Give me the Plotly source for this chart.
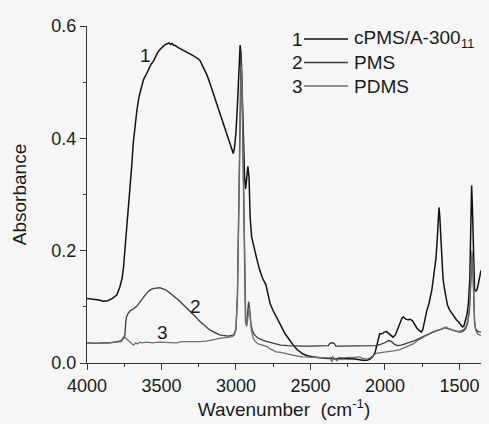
import plotly.graph_objects as go

# ---- data ----
wn1 = [4000, 3960, 3920, 3890, 3860, 3830, 3800, 3780, 3765, 3755, 3745, 3738, 3730, 3722,
       3712, 3700, 3690, 3675, 3665, 3650, 3635, 3620, 3600, 3585, 3570, 3555, 3540, 3525,
       3510, 3495, 3480, 3465, 3450, 3440, 3430, 3420, 3405, 3390, 3375, 3360, 3345, 3330,
       3315, 3300, 3285, 3270, 3255, 3240, 3225, 3210, 3195, 3180, 3165, 3150, 3135, 3120,
       3105, 3090, 3075, 3060, 3045, 3035, 3025, 3018, 3010, 3000, 2990, 2980, 2972, 2965,
       2958, 2950, 2942, 2935, 2928, 2920, 2912, 2905, 2895, 2880, 2860, 2840, 2820, 2800,
       2790, 2770, 2750, 2730, 2710, 2690, 2670, 2650, 2630, 2610, 2590, 2570, 2550, 2520,
       2490, 2450, 2400, 2380, 2360, 2340, 2300, 2250, 2200, 2150, 2120, 2100, 2080, 2065,
       2055, 2045, 2035, 2020, 2005, 1990, 1975, 1960, 1945, 1930, 1915, 1900, 1885, 1875,
       1860, 1845, 1830, 1815, 1800, 1785, 1770, 1755, 1745, 1735, 1720, 1705, 1695, 1685,
       1675, 1665, 1658, 1650, 1645, 1640, 1637, 1632, 1625, 1618, 1610, 1600, 1590, 1580,
       1565, 1550, 1535, 1520, 1505, 1490, 1480, 1470, 1460, 1450, 1440, 1430, 1423, 1418,
       1413, 1405, 1398, 1390, 1380, 1370, 1360, 1355]
ab1 = [0.115, 0.114, 0.112, 0.110, 0.111, 0.115, 0.121, 0.135, 0.150, 0.170, 0.200, 0.230, 0.260, 0.270,
       0.300, 0.350, 0.390, 0.430, 0.450, 0.475, 0.490, 0.505, 0.515, 0.525, 0.532, 0.537, 0.545, 0.553,
       0.558, 0.563, 0.566, 0.568, 0.570, 0.567, 0.569, 0.566, 0.565, 0.562, 0.560, 0.558, 0.556, 0.553,
       0.552, 0.549, 0.547, 0.544, 0.542, 0.538, 0.530, 0.522, 0.513, 0.502, 0.490, 0.478, 0.463, 0.452,
       0.440, 0.428, 0.416, 0.404, 0.393, 0.383, 0.375, 0.373, 0.383, 0.410, 0.460, 0.530, 0.566, 0.545,
       0.470, 0.380, 0.330, 0.310, 0.325, 0.350, 0.330, 0.260, 0.225, 0.205, 0.185, 0.165, 0.150, 0.140,
       0.128, 0.105, 0.093, 0.082, 0.070, 0.062, 0.052, 0.044, 0.036, 0.030, 0.024, 0.020, 0.016, 0.013,
       0.011, 0.010, 0.009, 0.008, 0.009, 0.007, 0.008, 0.008, 0.007, 0.005, 0.005, 0.007, 0.012, 0.020,
       0.030, 0.045, 0.052, 0.052, 0.055, 0.056, 0.053, 0.050, 0.046, 0.050, 0.060, 0.072, 0.080, 0.082,
       0.078, 0.077, 0.078, 0.075, 0.068, 0.062, 0.058, 0.055, 0.060, 0.075, 0.092, 0.105, 0.115, 0.130,
       0.150, 0.170, 0.185, 0.215, 0.245, 0.268, 0.277, 0.262, 0.220, 0.180, 0.150, 0.132, 0.115, 0.103,
       0.094, 0.088, 0.082, 0.077, 0.073, 0.068, 0.064, 0.066, 0.075, 0.085, 0.105, 0.150, 0.250, 0.316,
       0.280, 0.160, 0.130, 0.128, 0.132, 0.145, 0.162, 0.165]

wn2 = [4000, 3950, 3900, 3850, 3800, 3770, 3755, 3745, 3740, 3735, 3725, 3710, 3690, 3670, 3650,
       3630, 3610, 3590, 3570, 3550, 3530, 3510, 3490, 3470, 3450, 3430, 3410, 3390, 3370, 3350,
       3330, 3310, 3290, 3270, 3250, 3230, 3210, 3190, 3170, 3150, 3130, 3110, 3090, 3070, 3050,
       3030, 3015, 3000, 2990, 2980, 2972, 2966, 2960, 2952, 2944, 2936, 2930, 2922, 2915, 2908,
       2900, 2890, 2875, 2855, 2835, 2815, 2790, 2760, 2730, 2700, 2650, 2600, 2550, 2500, 2450,
       2400, 2380, 2370, 2355, 2340, 2330, 2300, 2250, 2200, 2150, 2100, 2060, 2030, 2000, 1975,
       1955, 1935, 1915, 1890, 1860, 1830, 1800, 1770, 1740, 1710, 1680, 1650, 1620, 1600, 1580,
       1560, 1540, 1520, 1500, 1480, 1460, 1445, 1432, 1422, 1415, 1410, 1404, 1398, 1390, 1375, 1355]
ab2 = [0.036, 0.035, 0.036, 0.036, 0.038, 0.040, 0.045, 0.050, 0.072, 0.082, 0.088, 0.093, 0.096, 0.100, 0.106,
       0.114, 0.121, 0.127, 0.131, 0.133, 0.134, 0.134, 0.132, 0.130, 0.126, 0.122, 0.118, 0.113, 0.108, 0.103,
       0.098, 0.093, 0.088, 0.082, 0.076, 0.071, 0.066, 0.062, 0.058, 0.055, 0.052, 0.050, 0.049, 0.048, 0.048,
       0.049, 0.050, 0.060, 0.120, 0.300, 0.500, 0.555, 0.500, 0.350, 0.180, 0.075, 0.068, 0.090, 0.109, 0.095,
       0.070, 0.058, 0.050, 0.045, 0.042, 0.040, 0.038, 0.036, 0.034, 0.032, 0.031, 0.030, 0.030, 0.030, 0.030,
       0.030, 0.031, 0.035, 0.036, 0.035, 0.030, 0.030, 0.030, 0.030, 0.030, 0.030, 0.031, 0.033, 0.036, 0.040,
       0.038, 0.033, 0.031, 0.032, 0.034, 0.037, 0.040, 0.044, 0.048, 0.052, 0.055, 0.058, 0.060, 0.063, 0.062,
       0.060, 0.058, 0.056, 0.055, 0.056, 0.060, 0.070, 0.095, 0.150, 0.185, 0.170, 0.100, 0.070, 0.060, 0.056, 0.055]

wn3 = [4000, 3950, 3900, 3850, 3800, 3770, 3755, 3745, 3735, 3720, 3705, 3695, 3685, 3675, 3660,
       3645, 3630, 3600, 3560, 3520, 3480, 3440, 3400, 3360, 3320, 3280, 3240, 3200, 3170, 3140,
       3110, 3080, 3050, 3025, 3010, 3000, 2990, 2980, 2972, 2965, 2958, 2950, 2942, 2934, 2927,
       2920, 2912, 2905, 2897, 2885, 2870, 2850, 2830, 2810, 2790, 2770, 2750, 2730, 2700, 2670,
       2640, 2610, 2580, 2550, 2500, 2450, 2400, 2370, 2355, 2350, 2340, 2320, 2310, 2280, 2250,
       2200, 2170, 2150, 2120, 2100, 2080, 2060, 2040, 2010, 1980, 1960, 1930, 1900, 1870, 1840,
       1810, 1780, 1750, 1720, 1690, 1660, 1630, 1610, 1590, 1570, 1550, 1530, 1510, 1490, 1470,
       1455, 1440, 1430, 1422, 1416, 1411, 1405, 1398, 1390, 1375, 1355]
ab3 = [0.036, 0.035, 0.035, 0.036, 0.037, 0.038, 0.043, 0.046, 0.043, 0.040, 0.036, 0.033, 0.032, 0.036, 0.034,
       0.037, 0.036, 0.037, 0.036, 0.037, 0.037, 0.037, 0.036, 0.038, 0.038, 0.037, 0.038, 0.039, 0.040, 0.042,
       0.044, 0.045, 0.046, 0.047, 0.050, 0.060, 0.120, 0.280, 0.460, 0.530, 0.480, 0.320, 0.150, 0.070, 0.065,
       0.085, 0.098, 0.085, 0.060, 0.045, 0.038, 0.034, 0.032, 0.030, 0.029, 0.025, 0.022, 0.020, 0.019, 0.017,
       0.015, 0.013, 0.012, 0.011, 0.010, 0.010, 0.009, 0.009, 0.002, 0.012, 0.008, 0.004, 0.010, 0.009, 0.010,
       0.010, 0.011, 0.008, 0.007, 0.009, 0.013, 0.017, 0.018, 0.019, 0.021, 0.021, 0.022, 0.024, 0.027, 0.030,
       0.034, 0.040, 0.045, 0.049, 0.053, 0.056, 0.060, 0.062, 0.064, 0.061, 0.059, 0.057, 0.056, 0.057, 0.060,
       0.065, 0.080, 0.110, 0.160, 0.200, 0.185, 0.110, 0.075, 0.058, 0.051, 0.049]

series_names = ["cPMS/A-300<sub>11</sub>", "PMS", "PDMS"]
series_numbers = ["1", "2", "3"]
series_colors = ["#111111", "#3c3c3c", "#6e6e6e"]
series_widths = [1.5, 1.3, 1.3]

# curve number labels placed next to the curves (data coordinates)
label_wn = [3609, 3273, 3493]
label_ab = [0.548, 0.100, 0.055]

x_ticks = [4000, 3500, 3000, 2500, 2000, 1500]
y_ticks = [0.0, 0.2, 0.4, 0.6]

FONT = "Liberation Sans, Arial, sans-serif"
TXT = "#1a1a1a"

fig = go.Figure()
for wn, ab, nm, col, w in zip([wn1, wn2, wn3], [ab1, ab2, ab3], series_names, series_colors, series_widths):
    fig.add_trace(go.Scatter(x=wn, y=ab, mode="lines", name=nm,
                             line=dict(color=col, width=w), showlegend=False))

# curve labels
for t, xv, yv in zip(series_numbers, label_wn, label_ab):
    fig.add_annotation(x=xv, y=yv, xref="x", yref="y", text=t, showarrow=False,
                       xanchor="center", yanchor="middle",
                       font=dict(family=FONT, size=19, color=TXT))

# manual legend: number, line sample, label
L, R, T, B = 87, 8, 26, 61
W, H = 489, 424
pw, ph = W - L - R, H - T - B
def px2paper(px, py):
    return (px - L) / pw, (H - B - py) / ph

rows_py = [39, 62.5, 86]
for i, py in enumerate(rows_py):
    xn, yn = px2paper(297, py)
    fig.add_annotation(x=xn, y=yn, xref="paper", yref="paper", text=series_numbers[i],
                       showarrow=False, xanchor="center", yanchor="middle",
                       font=dict(family=FONT, size=19, color=TXT))
    x0, y0 = px2paper(304, py)
    x1, _ = px2paper(348, py)
    fig.add_shape(type="line", xref="paper", yref="paper", x0=x0, x1=x1, y0=y0, y1=y0,
                  line=dict(color=series_colors[i], width=1.5))
    xt, _ = px2paper(352, py)
    fig.add_annotation(x=xt, y=yn, xref="paper", yref="paper", text=series_names[i],
                       showarrow=False, xanchor="left", yanchor="middle",
                       font=dict(family=FONT, size=19, color=TXT))

axis_common = dict(showline=True, linecolor="#333333", linewidth=1, mirror=False,
                   showgrid=False, zeroline=False, ticks="outside", tickcolor="#333333",
                   tickwidth=1, ticklen=6,
                   tickfont=dict(family=FONT, size=18, color=TXT))

fig.update_layout(
    width=W, height=H,
    margin=dict(l=L, r=R, t=T, b=B),
    paper_bgcolor="#f6f6f6", plot_bgcolor="#f6f6f6",
    xaxis=dict(range=[4000, 1355], tickvals=x_ticks, ticktext=[str(v) for v in x_ticks],
               minor=dict(dtick=250, ticks="outside", ticklen=3, tickcolor="#333333"),
               title=dict(text="Wavenumber  (cm<sup>-1</sup>)", standoff=2,
                          font=dict(family=FONT, size=19, color=TXT)),
               **axis_common),
    yaxis=dict(range=[0, 0.6], tickvals=y_ticks, tickformat=".1f",
               minor=dict(dtick=0.1, ticks="outside", ticklen=3, tickcolor="#333333"),
               title=dict(text="Absorbance", standoff=19,
                          font=dict(family=FONT, size=19, color=TXT)),
               **axis_common),
)

fig.write_html("out.html")
